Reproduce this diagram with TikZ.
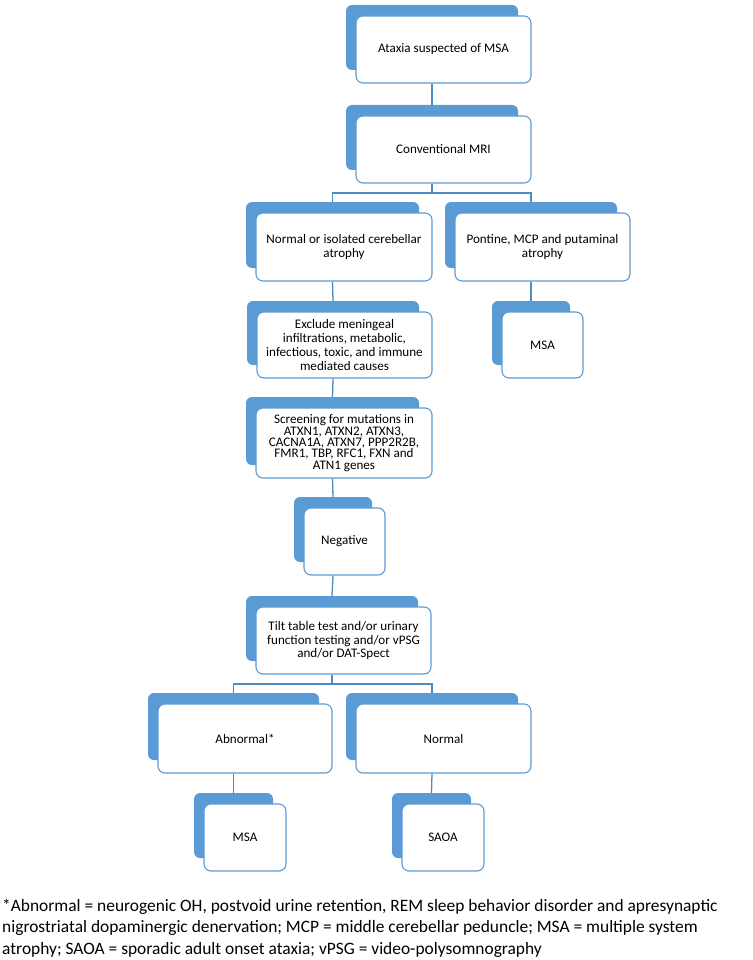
\documentclass[tikz,border=0pt]{standalone}
\usepackage{fontspec}
\setmainfont{Carlito}
\definecolor{smblue}{RGB}{91,155,213}
\definecolor{lnblue}{RGB}{80,138,196}
\tikzset{
  wbox/.style={draw=smblue, line width=1.1pt, fill=white, rounded corners=7pt, align=center, inner sep=2pt, font=\fontsize{13.1}{13.8}\selectfont},
  bbox/.style={fill=smblue, rounded corners=6pt, inner sep=0pt},
  conn/.style={draw=lnblue, line width=1.3pt},
}
\newcommand{\tbox}[7][]{%
  \pgfmathsetmacro{\tbcx}{(#3+#5)/2}\pgfmathsetmacro{\tbcy}{(#4+#6)/2}%
  \pgfmathsetmacro{\tbw}{#5-#3}\pgfmathsetmacro{\tbh}{#6-#4}%
  \pgfmathsetmacro{\tbbx}{(#3+#5)/2-11.5}\pgfmathsetmacro{\tbby}{(#4+#6)/2-12}%
  \node[bbox, minimum width=\tbw pt-3pt, minimum height=\tbh pt-2pt] (#2b) at (\tbbx,\tbby) {};
  \node[wbox, minimum width=\tbw pt, minimum height=\tbh pt, #1] (#2) at (\tbcx,\tbcy) {#7};
}
\begin{document}
\begin{tikzpicture}[x=1pt,y=-1pt]
\useasboundingbox (0,0) rectangle (752,960);
\tbox{n1}{356}{16}{531}{83}{Ataxia suspected of MSA}
\tbox{n2}{356}{116}{531}{183}{Conventional MRI}
\tbox{n3}{256}{213}{432}{281}{Normal or isolated cerebellar\\atrophy}
\tbox{n4}{455}{213}{630}{281}{Pontine, MCP and putaminal\\atrophy}
\tbox{n5}{257}{312}{432}{378}{Exclude meningeal\\infiltrations, metabolic,\\infectious, toxic, and immune\\mediated causes}
\tbox{n6}{502}{312}{583}{378}{MSA}
\tbox[font=\fontsize{13.1}{11.3}\selectfont]{n7}{256}{408}{432}{478}{Screening for mutations in\\ATXN1, ATXN2, ATXN3,\\CACNA1A, ATXN7, PPP2R2B,\\FMR1, TBP, RFC1, FXN and\\ATN1 genes}
\tbox{n8}{304}{508}{385}{575}{Negative}
\tbox{n9}{256}{607}{431}{674}{Tilt table test and/or urinary\\function testing and/or vPSG\\and/or DAT-Spect}
\tbox{n10}{158}{704}{332}{773}{Abnormal*}
\tbox{n11}{356}{704}{531}{773}{Normal}
\tbox{n12}{204}{804}{286}{871}{MSA}
\tbox{n13}{402}{804}{484}{871}{SAOA}
\coordinate (busA) at (0,193);
\coordinate (busB) at (0,684);
\draw[conn] (n1b.center |- n1.south) -- (n2b.north);
\draw[conn] (n2b.center |- n2.south) -- (n2b.center |- busA);
\draw[conn] (n3b.north) -- (n3b.north |- busA) -- (n4b.north |- busA) -- (n4b.north);
\draw[conn] (n3b.center |- n3.south) -- (n5b.north);
\draw[conn] (n4b.center |- n4.south) -- (n6b.north);
\draw[conn] (n5b.center |- n5.south) -- (n7b.north);
\draw[conn] (n7b.center |- n7.south) -- (n8b.north);
\draw[conn] (n8b.center |- n8.south) -- (n9b.north);
\draw[conn] (n9b.center |- n9.south) -- (n9b.center |- busB);
\draw[conn] (n10b.north) -- (n10b.north |- busB) -- (n11b.north |- busB) -- (n11b.north);
\draw[conn] (n10b.center |- n10.south) -- (n12b.north);
\draw[conn] (n11b.center |- n11.south) -- (n13b.north);
\node[anchor=west, align=left, inner sep=0pt, font=\fontsize{17.4}{21.5}\selectfont] (fn) at (2,928) {*Abnormal = neurogenic OH, postvoid urine retention, REM sleep behavior disorder and apresynaptic\\nigrostriatal dopaminergic denervation; MCP = middle cerebellar peduncle; MSA = multiple system\\atrophy; SAOA = sporadic adult onset ataxia; vPSG = video-polysomnography};
\end{tikzpicture}
\end{document}
